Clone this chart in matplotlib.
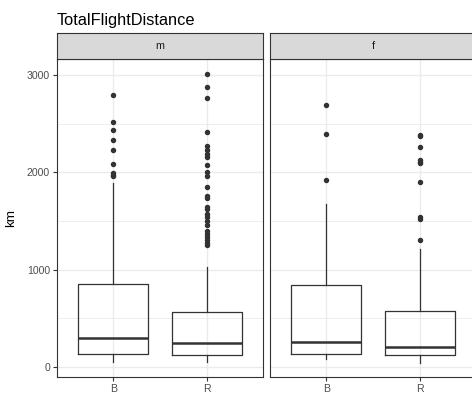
import matplotlib
matplotlib.use("Agg")
import matplotlib.pyplot as plt
from matplotlib.ticker import MultipleLocator

plt.rcParams['font.family'] = ['Liberation Sans', 'DejaVu Sans']

title = "TotalFlightDistance"
ylabel = "km"
facets = ["m", "f"]
groups = ["B", "R"]

# box statistics per facet / group: [whislo, q1, median, q3, whishi]
m_B_stats = [54, 137, 301, 849, 1892]
m_R_stats = [54, 127, 250, 561, 1027]
f_B_stats = [79, 133, 257, 842, 1673]
f_R_stats = [38, 123, 209, 578, 1208]

m_B_out = [2796, 2515, 2437, 2327, 2225, 2087, 1989, 1971, 1958]
m_R_out = [3015, 2872, 2762, 2413, 2272, 2228, 2193, 2156, 2071, 1999, 1964,
           1848, 1756, 1735, 1646, 1625, 1571, 1543, 1496, 1461, 1393, 1366,
           1338, 1304, 1276, 1256]
f_B_out = [2690, 2396, 1920]
f_R_out = [2385, 2372, 2255, 2125, 2105, 2091, 1899, 1537, 1520, 1304]

facet_stats = {"m": [m_B_stats, m_R_stats], "f": [f_B_stats, f_R_stats]}
facet_out = {"m": [m_B_out, m_R_out], "f": [f_B_out, f_R_out]}

W, H = 472, 394
fig = plt.figure(figsize=(W / 100, H / 100), dpi=100)

dark = "#333333"
grid = "#EBEBEB"
panel_lefts = [57, 270]
pw = 206
p_top, p_bot = 59, 377
strip_top = 33

for i, fac in enumerate(facets):
    left = panel_lefts[i]
    ax = fig.add_axes([left / W, (H - p_bot) / H, pw / W, (p_bot - p_top) / H])
    stats = []
    for g, s, o in zip(groups, facet_stats[fac], facet_out[fac]):
        stats.append(dict(whislo=s[0], q1=s[1], med=s[2], q3=s[3], whishi=s[4],
                          fliers=o, label=g))
    ax.bxp(stats, positions=[1, 2], widths=0.75, showcaps=False,
           boxprops=dict(color=dark, linewidth=0.9),
           whiskerprops=dict(color=dark, linewidth=0.9),
           medianprops=dict(color=dark, linewidth=1.8),
           flierprops=dict(marker='o', markersize=2.9, markerfacecolor=dark,
                           markeredgecolor=dark, linestyle='none'),
           zorder=3)
    ax.set_xlim(0.4, 2.6)
    ax.set_ylim(-103, 3164)
    ax.yaxis.set_major_locator(MultipleLocator(1000))
    ax.yaxis.set_minor_locator(MultipleLocator(500))
    ax.set_xticks([1, 2])
    ax.set_xticklabels(groups)
    ax.grid(True, which='major', color=grid, linewidth=1.0, zorder=0)
    ax.grid(True, which='minor', axis='y', color=grid, linewidth=0.6, zorder=0)
    ax.set_axisbelow(True)
    ax.tick_params(axis='both', which='major', length=3, width=0.8, color=dark,
                   labelsize=7.6, labelcolor="#4D4D4D", pad=2)
    ax.tick_params(axis='both', which='minor', length=0)
    for sp in ax.spines.values():
        sp.set_color(dark)
        sp.set_linewidth(0.8)
    if i == 0:
        ax.set_ylabel(ylabel, fontsize=9.7, color='black', labelpad=7)
    else:
        ax.tick_params(axis='y', which='both', left=False, labelleft=False)

    sax = fig.add_axes([left / W, (H - p_top) / H, pw / W, (p_top - strip_top) / H])
    sax.set_facecolor("#D9D9D9")
    sax.set_xticks([])
    sax.set_yticks([])
    for sp in sax.spines.values():
        sp.set_color(dark)
        sp.set_linewidth(0.8)
    sax.text(0.5, 0.5, fac, ha='center', va='center', fontsize=7.8,
             color="#1A1A1A", transform=sax.transAxes)

fig.text(57 / W, 1 - 25 / H, title, fontsize=11.8, color='black',
         ha='left', va='baseline')

fig.savefig("out.png", dpi=100)
